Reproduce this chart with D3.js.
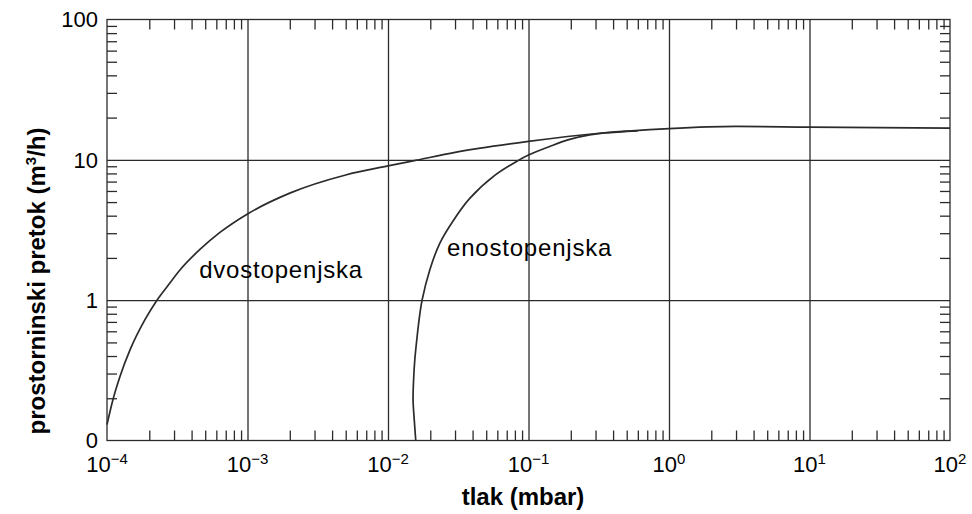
<!DOCTYPE html>
<html>
<head>
<meta charset="utf-8">
<script src="https://cdn.jsdelivr.net/npm/d3@7"></script>
<style>
  body { margin: 0; background: #fff; }
  svg { display: block; font-family: "Liberation Sans", Arial, sans-serif; }
</style>
</head>
<body>
<svg id="chart"></svg>
<script>
// pressure (mbar) and flow (m3/h)
const twoStagePressure = [1e-4, 1.103e-4, 1.237e-4, 1.458e-4, 1.863e-4, 2.268e-4, 2.716e-4, 3.305e-4, 4.586e-4, 6.364e-4, 1e-3, 2e-3, 5e-3, 1e-2, 1.602e-2, 3e-2, 0.1, 0.321, 1, 3, 10, 100];
const twoStageFlow     = [0.130, 0.196, 0.286, 0.442, 0.726, 1.0, 1.273, 1.642, 2.298, 3.038, 4.116, 5.79, 7.80, 9.05, 9.95, 11.29, 13.52, 15.47, 16.69, 17.30, 17.10, 16.83];

const oneStagePressure = [0.01576, 0.01538, 0.01508, 0.01521, 0.01551, 0.01602, 0.01664, 0.01748, 0.01983, 0.02336, 0.02904, 0.03818, 0.05749, 0.08518, 0.1, 0.1415, 0.1963, 0.2724, 0.3483, 0.598];
const oneStageFlow     = [0.1, 0.140, 0.194, 0.270, 0.375, 0.520, 0.723, 1.0, 1.642, 2.544, 3.67, 5.31, 7.74, 9.95, 10.84, 12.46, 13.98, 15.05, 15.55, 16.1];

const xTickExp = [-4, -3, -2, -1, 0, 1, 2];
const yTickValues = [0.1, 1, 10, 100];
const yTickLabels = ["0", "1", "10", "100"];

const curveLabels = [
  {text: "dvostopenjska", p: 4.53e-4, q: 1.44},
  {text: "enostopenjska", p: 2.63e-2, q: 2.07}
];

const width = 972, height = 514;
const margin = {top: 19.5, right: 22, bottom: 73.5, left: 107};

const svg = d3.select("#chart").attr("width", width).attr("height", height);

const x = d3.scaleLog().domain([1e-4, 1e2]).range([margin.left, width - margin.right]);
const y = d3.scaleLog().domain([0.1, 100]).range([height - margin.bottom, margin.top]);

const ink = "#2b2b2b";

// minor ticks 2..9 in each decade
const xMinor = [];
for (let e = -4; e < 2; e++) for (let k = 2; k <= 9; k++) xMinor.push(k * Math.pow(10, e));
const yMinor = [];
for (let e = -1; e < 2; e++) for (let k = 2; k <= 9; k++) yMinor.push(k * Math.pow(10, e));

const plotH = y(0.1) - y(100);
const plotW = x(100) - x(1e-4);

// grid
svg.append("g")
    .attr("transform", `translate(0,${y(0.1)})`)
    .call(d3.axisBottom(x).tickValues([1e-3, 1e-2, 1e-1, 1, 10]).tickSize(-plotH).tickFormat(""))
    .call(g => g.select(".domain").remove());
svg.append("g")
    .attr("transform", `translate(${x(1e-4)},0)`)
    .call(d3.axisLeft(y).tickValues([1, 10]).tickSize(-plotW).tickFormat(""))
    .call(g => g.select(".domain").remove());

// inward minor ticks on all four sides
svg.append("g")
    .attr("transform", `translate(0,${y(0.1)})`)
    .call(d3.axisBottom(x).tickValues(xMinor).tickSize(-10).tickFormat(""));
svg.append("g")
    .attr("transform", `translate(0,${y(100)})`)
    .call(d3.axisTop(x).tickValues(xMinor).tickSize(-10).tickFormat(""));
svg.append("g")
    .attr("transform", `translate(${x(1e-4)},0)`)
    .call(d3.axisLeft(y).tickValues(yMinor).tickSize(-10).tickFormat(""));
svg.append("g")
    .attr("transform", `translate(${x(100)},0)`)
    .call(d3.axisRight(y).tickValues(yMinor).tickSize(-10).tickFormat(""));

svg.selectAll(".tick line").attr("stroke", ink).attr("stroke-width", 1.3);
svg.selectAll(".domain").attr("stroke", "none");

// frame
svg.append("rect")
    .attr("x", x(1e-4)).attr("y", y(100))
    .attr("width", plotW).attr("height", plotH)
    .attr("fill", "none").attr("stroke", ink).attr("stroke-width", 1.3);

// curves
const lineX = d3.line()
    .x(d => x(d[0])).y(d => y(d[1]))
    .curve(d3.curveMonotoneX);
const lineC = d3.line()
    .x(d => x(d[0])).y(d => y(d[1]))
    .curve(d3.curveCatmullRom.alpha(0.5));

svg.append("path")
    .datum(d3.zip(twoStagePressure, twoStageFlow))
    .attr("d", lineX)
    .attr("fill", "none").attr("stroke", ink).attr("stroke-width", 1.7);
svg.append("path")
    .datum(d3.zip(oneStagePressure, oneStageFlow))
    .attr("d", lineC)
    .attr("fill", "none").attr("stroke", ink).attr("stroke-width", 1.7);

// curve labels
svg.append("g").selectAll("text")
  .data(curveLabels)
  .join("text")
    .attr("x", d => x(d.p)).attr("y", d => y(d.q))
    .attr("font-size", 24)
    .attr("letter-spacing", 0.8)
    .attr("fill", "#000")
    .text(d => d.text);

// x tick labels 10^n
const xl = svg.append("g").selectAll("text")
  .data(xTickExp)
  .join("text")
    .attr("x", d => x(Math.pow(10, d)))
    .attr("y", 472)
    .attr("text-anchor", "middle")
    .attr("font-size", 22)
    .attr("fill", "#000");
xl.append("tspan").text("10");
xl.append("tspan")
    .attr("dy", -8.5)
    .attr("font-size", 15)
    .text(d => d < 0 ? "\u2212" + (-d) : String(d));

// y tick labels
svg.append("g").selectAll("text")
  .data(yTickValues)
  .join("text")
    .attr("x", 98)
    .attr("y", d => y(d))
    .attr("dy", "0.36em")
    .attr("text-anchor", "end")
    .attr("font-size", 22)
    .attr("fill", "#000")
    .text((d, i) => yTickLabels[i]);

// axis titles
svg.append("text")
    .attr("x", 523).attr("y", 505)
    .attr("text-anchor", "middle")
    .attr("font-size", 24)
    .attr("font-weight", "bold")
    .attr("fill", "#000")
    .text("tlak (mbar)");

const yt = svg.append("text")
    .attr("transform", "translate(45,281) rotate(-90)")
    .attr("text-anchor", "middle")
    .attr("font-size", 24)
    .attr("font-weight", "bold")
    .attr("fill", "#000");
yt.append("tspan").text("prostorninski pretok (m");
yt.append("tspan").attr("dy", -9).attr("font-size", 15).text("3");
yt.append("tspan").attr("dy", 9).text("/h)");
</script>
</body>
</html>
